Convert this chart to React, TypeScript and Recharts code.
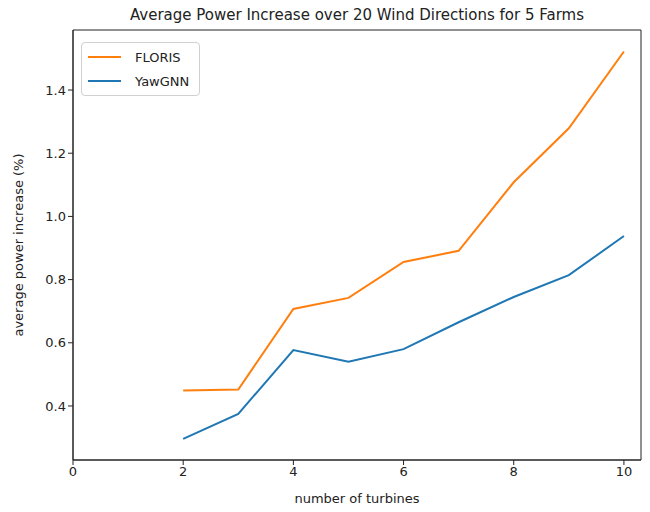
import { LineChart, Line, XAxis, YAxis, ReferenceArea } from 'recharts';

// turbine counts and the average power gains per model
const TURBINES = [2, 3, 4, 5, 6, 7, 8, 9, 10];
const FLORIS = [0.449, 0.452, 0.707, 0.742, 0.856, 0.891, 1.108, 1.279, 1.522];
const YAWGNN = [0.296, 0.375, 0.577, 0.540, 0.580, 0.665, 0.745, 0.814, 0.938];

const X_TICKS = [0, 2, 4, 6, 8, 10];
const Y_TICKS = [0.4, 0.6, 0.8, 1.0, 1.2, 1.4];
const X_DOMAIN: [number, number] = [0, 10.31];
const Y_DOMAIN: [number, number] = [0.229, 1.59];

const SERIES = [
  { key: 'floris', name: 'FLORIS', color: '#ff7f0e' },
  { key: 'yawgnn', name: 'YawGNN', color: '#1f77b4' },
];

const FONT = '"DejaVu Sans", sans-serif';

const data = TURBINES.map((n, i) => ({ n, floris: FLORIS[i], yawgnn: YAWGNN[i] }));

function LegendBox() {
  return (
    <div
      style={{
        position: 'absolute',
        left: 81,
        top: 42,
        border: '1px solid #d0d0d0',
        borderRadius: 4,
        background: '#fff',
        padding: '2px 10px 2px 6px',
        fontFamily: FONT,
        fontSize: 13,
        color: '#222',
      }}
    >
      {SERIES.map((s) => (
        <div key={s.key} style={{ display: 'flex', alignItems: 'center', height: 24 }}>
          <span style={{ width: 33, height: 2, background: s.color, marginRight: 14 }} />
          <span>{s.name}</span>
        </div>
      ))}
    </div>
  );
}

export default function App() {
  const tick = { fontSize: 13, fill: '#222', fontFamily: FONT };
  return (
    <div style={{ position: 'fixed', left: 0, top: 0, width: 650, height: 512, background: '#fff' }}>
      <LineChart width={650} height={512} data={data} margin={{ top: 30, right: 9, bottom: 0, left: 0 }}>
        <XAxis
          dataKey="n"
          type="number"
          domain={X_DOMAIN}
          ticks={X_TICKS}
          tick={tick}
          tickSize={5}
          stroke="#222"
          height={52}
          label={{ value: 'number of turbines', position: 'insideBottom', offset: 9, style: { fontSize: 13, fill: '#222', fontFamily: FONT } }}
        />
        <YAxis
          type="number"
          domain={Y_DOMAIN}
          ticks={Y_TICKS}
          tick={tick}
          tickSize={5}
          tickFormatter={(v: number) => v.toFixed(1)}
          stroke="#222"
          width={73}
          label={{ value: 'average power increase (%)', angle: -90, position: 'insideLeft', offset: 18, style: { fontSize: 13, fill: '#222', fontFamily: FONT, textAnchor: 'middle' } }}
        />
        <ReferenceArea
          x1={X_DOMAIN[0]}
          x2={X_DOMAIN[1]}
          y1={Y_DOMAIN[0]}
          y2={Y_DOMAIN[1]}
          fill="none"
          stroke="#222"
          strokeWidth={1}
          fillOpacity={0}
        />
        {SERIES.map((s) => (
          <Line
            key={s.key}
            dataKey={s.key}
            name={s.name}
            stroke={s.color}
            strokeWidth={2}
            dot={false}
            type="linear"
            isAnimationActive={false}
          />
        ))}
        <text x={357} y={20} textAnchor="middle" style={{ fontSize: 15, fill: '#222', fontFamily: FONT }}>
          Average Power Increase over 20 Wind Directions for 5 Farms
        </text>
      </LineChart>
      <LegendBox />
    </div>
  );
}
